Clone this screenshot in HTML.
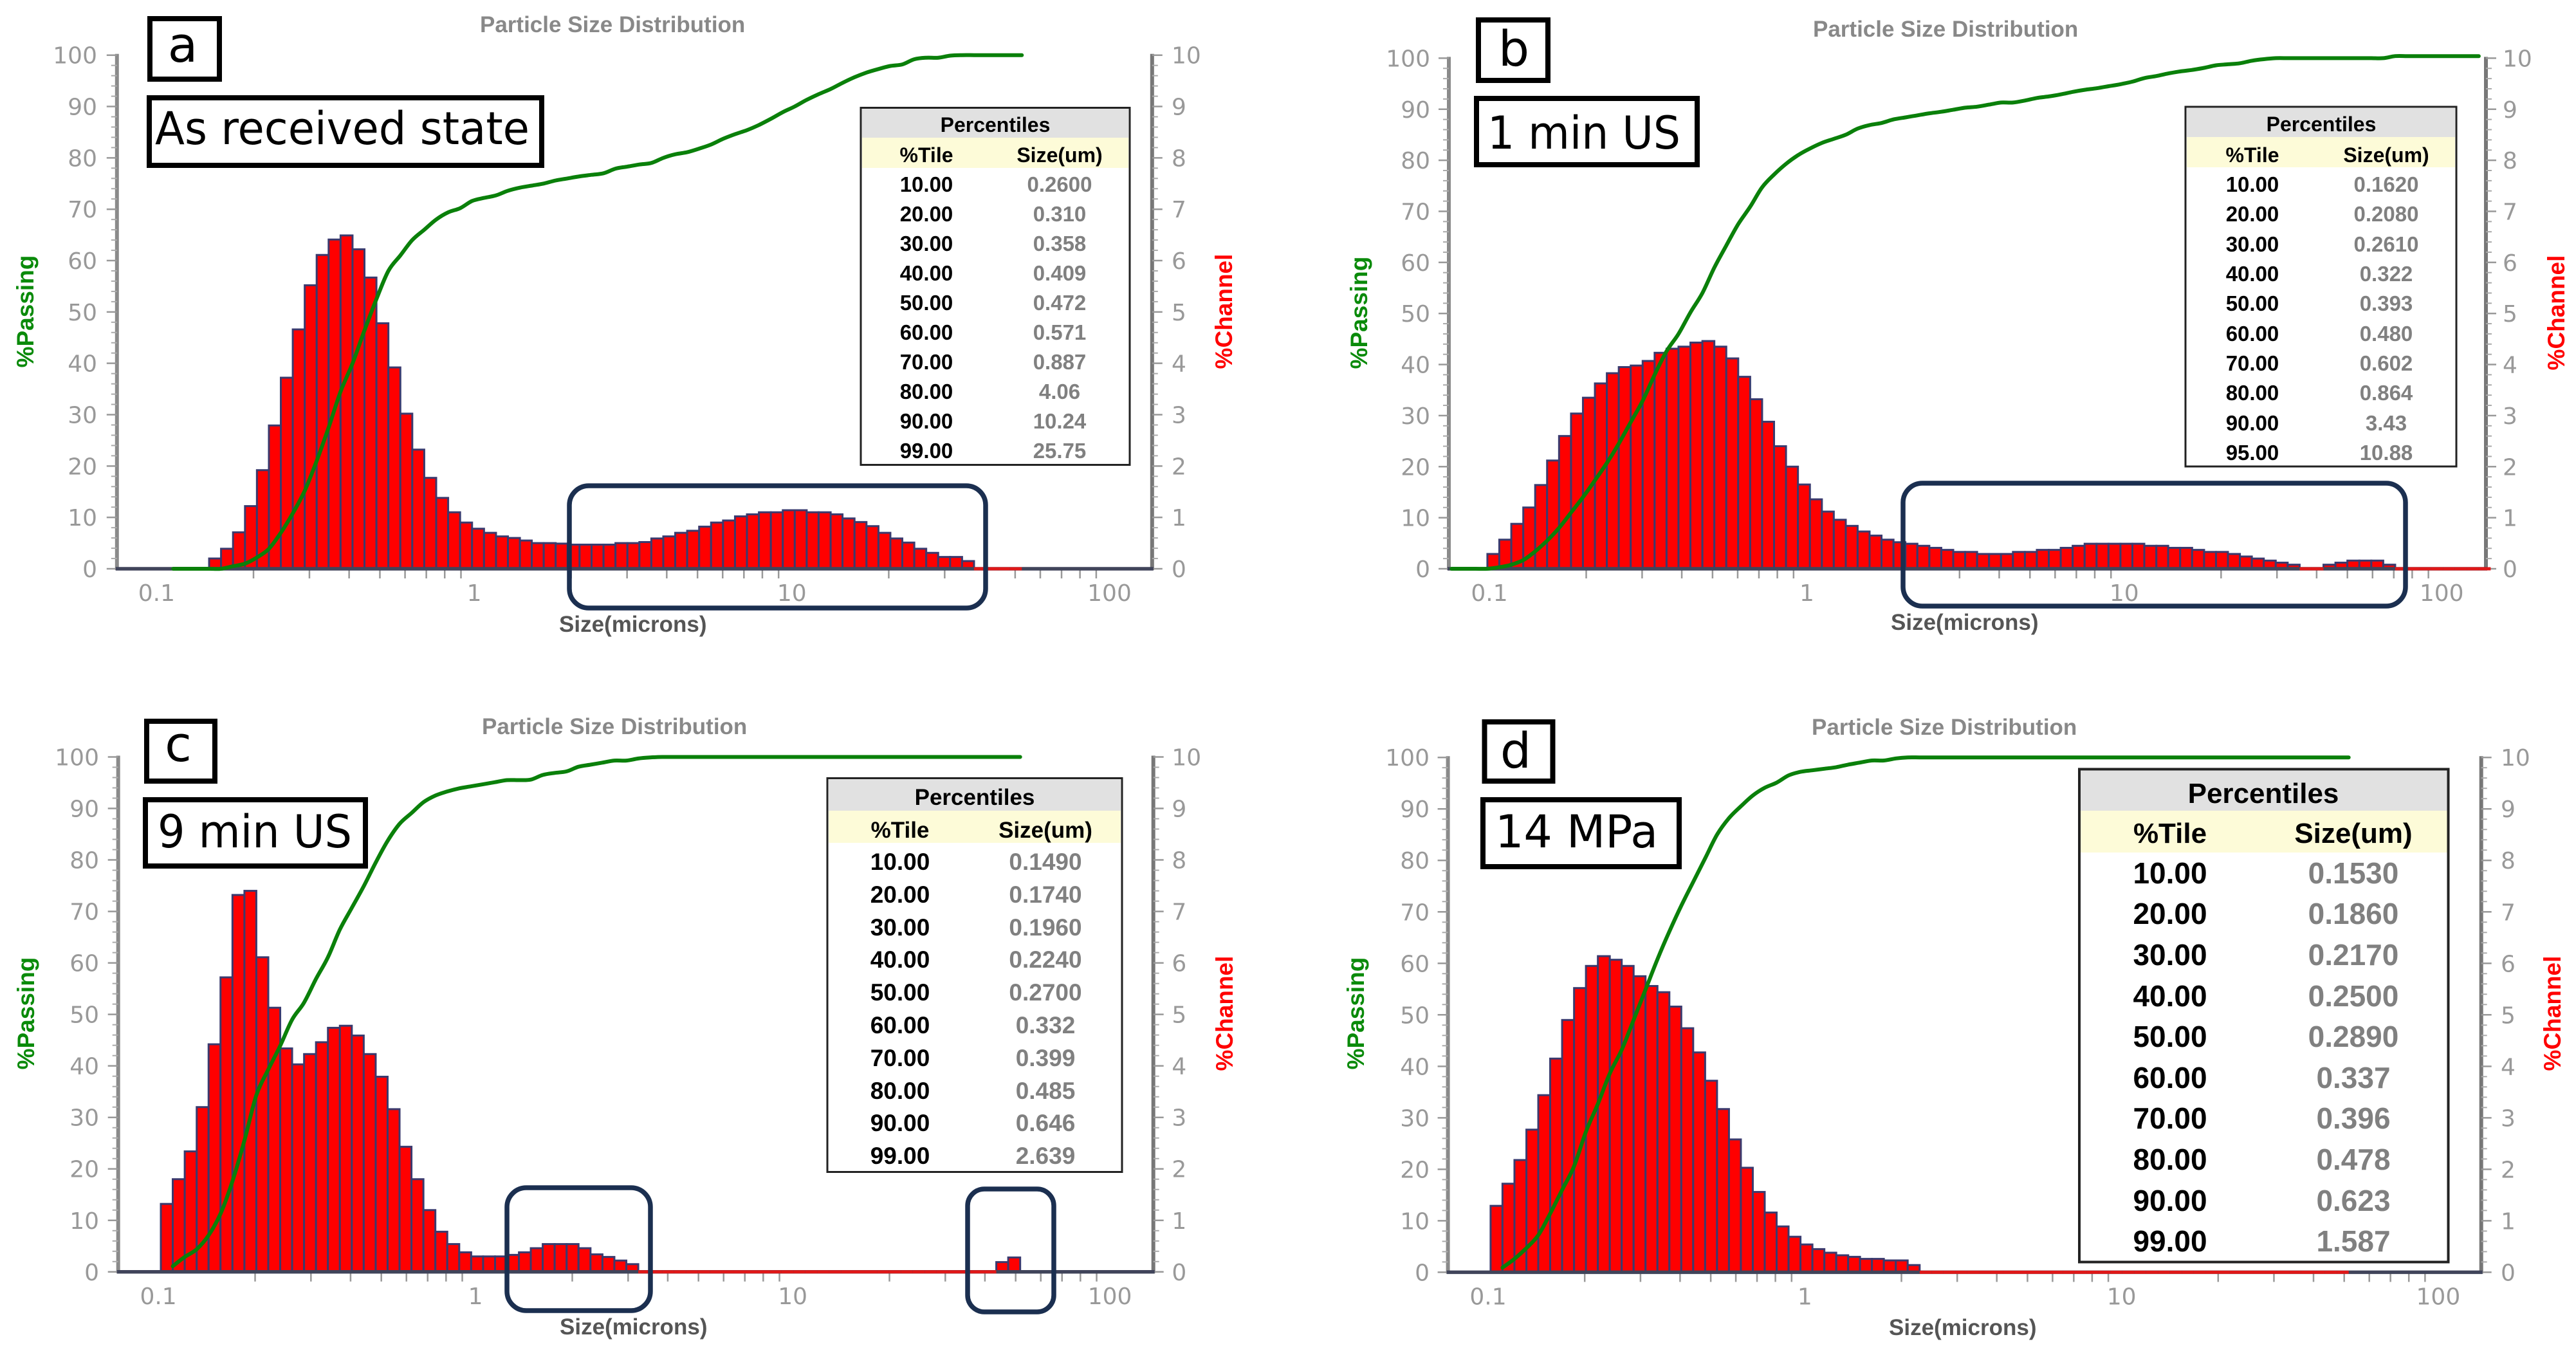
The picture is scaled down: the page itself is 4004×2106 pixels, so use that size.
<!DOCTYPE html>
<html lang="en">
<head>
<meta charset="utf-8">
<title>Particle Size Distribution panels</title>
<style>
html,body{margin:0;padding:0;background:#fff}
svg{display:block}
text{font-family:"Liberation Sans",sans-serif}
.title{font-weight:bold;font-size:35px;fill:#888}
.xtitle{font-weight:bold;font-size:35px;fill:#555}
.pass{font-weight:bold;font-size:37px;fill:#0a8a0a;text-anchor:middle}
.chan{font-weight:bold;font-size:37px;fill:#f00;text-anchor:middle}
.tick{font-family:"DejaVu Sans",sans-serif;font-size:36px;fill:#999}
.letter{font-family:"DejaVu Sans",sans-serif;font-size:76px;fill:#000;text-anchor:middle}
.state{font-family:"DejaVu Sans",sans-serif;font-size:70px;fill:#000}
.box{fill:#fff;stroke:#000;stroke-width:8}
.hl{fill:none;stroke:#1b2f50;stroke-width:7.5}
.tbl{fill:#fff;stroke:#222;stroke-width:3}
.th{fill:#e1e1e1}
.ty{fill:#fdfbd8}
.tt{font-weight:bold;fill:#000;text-anchor:middle}
.tg{font-weight:bold;fill:#808080;text-anchor:middle}
</style>
</head>
<body>
<svg id="figure" xmlns="http://www.w3.org/2000/svg" width="4004" height="2106" viewBox="0 0 4004 2106">
<rect x="0" y="0" width="4004" height="2106" fill="#fff"/>

<g id="plot-a"></g>
<g id="plot-b"></g>
<g id="plot-c"></g>
<g id="plot-d"></g>

<!-- Panel a -->
<g>
<text class="title" x="746" y="50">Particle Size Distribution</text>
<text class="xtitle" x="869" y="982">Size(microns)</text>
<text class="pass" x="52" y="484" transform="rotate(-90 52 484)">%Passing</text>
<text class="chan" x="1915" y="484" transform="rotate(-90 1915 484)">%Channel</text>
<rect class="hl" x="885" y="755" width="647" height="190" rx="30"/>
<rect class="box" x="233" y="29" width="108" height="94"/>
<text class="letter" x="284" y="96">a</text>
<rect class="box" x="232" y="152" width="610" height="105"/>
<text class="state" x="241" y="224" textLength="582" lengthAdjust="spacingAndGlyphs">As received state</text>
<g font-size="33">
<rect class="tbl" x="1338" y="167.5" width="418" height="555"/>
<rect class="th" x="1340" y="169" width="414" height="45"/>
<rect class="ty" x="1340" y="214" width="414" height="47"/>
<text class="tt" x="1547" y="205" font-size="32">Percentiles</text>
<text class="tt" x="1440" y="252" font-size="32">%Tile</text>
<text class="tt" x="1647" y="252" font-size="32">Size(um)</text>
<text class="tt" x="1440" y="298">10.00</text><text class="tg" x="1647" y="298">0.2600</text>
<text class="tt" x="1440" y="344">20.00</text><text class="tg" x="1647" y="344">0.310</text>
<text class="tt" x="1440" y="390">30.00</text><text class="tg" x="1647" y="390">0.358</text>
<text class="tt" x="1440" y="436">40.00</text><text class="tg" x="1647" y="436">0.409</text>
<text class="tt" x="1440" y="482">50.00</text><text class="tg" x="1647" y="482">0.472</text>
<text class="tt" x="1440" y="528">60.00</text><text class="tg" x="1647" y="528">0.571</text>
<text class="tt" x="1440" y="574">70.00</text><text class="tg" x="1647" y="574">0.887</text>
<text class="tt" x="1440" y="620">80.00</text><text class="tg" x="1647" y="620">4.06</text>
<text class="tt" x="1440" y="666">90.00</text><text class="tg" x="1647" y="666">10.24</text>
<text class="tt" x="1440" y="712">99.00</text><text class="tg" x="1647" y="712">25.75</text>
</g>
</g>

<!-- Panel b -->
<g>
<text class="title" x="2818" y="57">Particle Size Distribution</text>
<text class="xtitle" x="2939" y="979">Size(microns)</text>
<text class="pass" x="2125" y="486" transform="rotate(-90 2125 486)">%Passing</text>
<text class="chan" x="3986" y="486" transform="rotate(-90 3986 486)">%Channel</text>
<rect class="hl" x="2958" y="751" width="781" height="191" rx="30"/>
<rect class="box" x="2298" y="31" width="108" height="94"/>
<text class="letter" x="2353" y="102">b</text>
<rect class="box" x="2295" y="153" width="343" height="103"/>
<text class="state" x="2312" y="231" textLength="300" lengthAdjust="spacingAndGlyphs">1 min US</text>
<g font-size="33">
<rect class="tbl" x="3397" y="166" width="421" height="559"/>
<rect class="th" x="3399" y="168" width="417" height="45"/>
<rect class="ty" x="3399" y="213" width="417" height="47"/>
<text class="tt" x="3608" y="204" font-size="32">Percentiles</text>
<text class="tt" x="3501" y="252" font-size="32">%Tile</text>
<text class="tt" x="3709" y="252" font-size="32">Size(um)</text>
<text class="tt" x="3501" y="298">10.00</text><text class="tg" x="3709" y="298">0.1620</text>
<text class="tt" x="3501" y="344">20.00</text><text class="tg" x="3709" y="344">0.2080</text>
<text class="tt" x="3501" y="391">30.00</text><text class="tg" x="3709" y="391">0.2610</text>
<text class="tt" x="3501" y="437">40.00</text><text class="tg" x="3709" y="437">0.322</text>
<text class="tt" x="3501" y="483">50.00</text><text class="tg" x="3709" y="483">0.393</text>
<text class="tt" x="3501" y="530">60.00</text><text class="tg" x="3709" y="530">0.480</text>
<text class="tt" x="3501" y="576">70.00</text><text class="tg" x="3709" y="576">0.602</text>
<text class="tt" x="3501" y="622">80.00</text><text class="tg" x="3709" y="622">0.864</text>
<text class="tt" x="3501" y="669">90.00</text><text class="tg" x="3709" y="669">3.43</text>
<text class="tt" x="3501" y="715">95.00</text><text class="tg" x="3709" y="715">10.88</text>
</g>
</g>

<!-- Panel c -->
<g>
<text class="title" x="749" y="1141">Particle Size Distribution</text>
<text class="xtitle" x="870" y="2074">Size(microns)</text>
<text class="pass" x="53" y="1575" transform="rotate(-90 53 1575)">%Passing</text>
<text class="chan" x="1916" y="1575" transform="rotate(-90 1916 1575)">%Channel</text>
<rect class="hl" x="788" y="1846" width="223" height="191" rx="30"/>
<rect class="hl" x="1504" y="1848" width="134" height="191" rx="26"/>
<rect class="box" x="228" y="1121" width="106" height="93"/>
<text class="letter" x="277" y="1183">c</text>
<rect class="box" x="226" y="1243" width="342" height="103"/>
<text class="state" x="245" y="1317" textLength="302" lengthAdjust="spacingAndGlyphs">9 min US</text>
<g font-size="37">
<rect class="tbl" x="1286" y="1209.5" width="458" height="612"/>
<rect class="th" x="1288" y="1211" width="454" height="49"/>
<rect class="ty" x="1288" y="1260" width="454" height="50"/>
<text class="tt" x="1515" y="1251" font-size="35">Percentiles</text>
<text class="tt" x="1399" y="1302" font-size="35">%Tile</text>
<text class="tt" x="1625" y="1302" font-size="35">Size(um)</text>
<text class="tt" x="1399" y="1352">10.00</text><text class="tg" x="1625" y="1352">0.1490</text>
<text class="tt" x="1399" y="1403">20.00</text><text class="tg" x="1625" y="1403">0.1740</text>
<text class="tt" x="1399" y="1454">30.00</text><text class="tg" x="1625" y="1454">0.1960</text>
<text class="tt" x="1399" y="1504">40.00</text><text class="tg" x="1625" y="1504">0.2240</text>
<text class="tt" x="1399" y="1555">50.00</text><text class="tg" x="1625" y="1555">0.2700</text>
<text class="tt" x="1399" y="1606">60.00</text><text class="tg" x="1625" y="1606">0.332</text>
<text class="tt" x="1399" y="1657">70.00</text><text class="tg" x="1625" y="1657">0.399</text>
<text class="tt" x="1399" y="1708">80.00</text><text class="tg" x="1625" y="1708">0.485</text>
<text class="tt" x="1399" y="1758">90.00</text><text class="tg" x="1625" y="1758">0.646</text>
<text class="tt" x="1399" y="1809">99.00</text><text class="tg" x="1625" y="1809">2.639</text>
</g>
</g>

<!-- Panel d -->
<g>
<text class="title" x="2816" y="1142">Particle Size Distribution</text>
<text class="xtitle" x="2936" y="2075">Size(microns)</text>
<text class="pass" x="2120" y="1575" transform="rotate(-90 2120 1575)">%Passing</text>
<text class="chan" x="3980" y="1575" transform="rotate(-90 3980 1575)">%Channel</text>
<rect class="box" x="2307.5" y="1122" width="106" height="92"/>
<text class="letter" x="2356" y="1193">d</text>
<rect class="box" x="2305" y="1243" width="305" height="104"/>
<text class="state" x="2324" y="1317" textLength="253" lengthAdjust="spacingAndGlyphs">14 MPa</text>
<g font-size="46">
<rect class="tbl" x="3232" y="1195.5" width="573.5" height="766" style="stroke-width:4"/>
<rect class="th" x="3234" y="1197.5" width="569.5" height="62.5"/>
<rect class="ty" x="3234" y="1260" width="569.5" height="65"/>
<text class="tt" x="3518" y="1248" font-size="44">Percentiles</text>
<text class="tt" x="3373" y="1310" font-size="44">%Tile</text>
<text class="tt" x="3658" y="1310" font-size="44">Size(um)</text>
<text class="tt" x="3373" y="1373">10.00</text><text class="tg" x="3658" y="1373">0.1530</text>
<text class="tt" x="3373" y="1436">20.00</text><text class="tg" x="3658" y="1436">0.1860</text>
<text class="tt" x="3373" y="1500">30.00</text><text class="tg" x="3658" y="1500">0.2170</text>
<text class="tt" x="3373" y="1564">40.00</text><text class="tg" x="3658" y="1564">0.2500</text>
<text class="tt" x="3373" y="1627">50.00</text><text class="tg" x="3658" y="1627">0.2890</text>
<text class="tt" x="3373" y="1691">60.00</text><text class="tg" x="3658" y="1691">0.337</text>
<text class="tt" x="3373" y="1754">70.00</text><text class="tg" x="3658" y="1754">0.396</text>
<text class="tt" x="3373" y="1818">80.00</text><text class="tg" x="3658" y="1818">0.478</text>
<text class="tt" x="3373" y="1882">90.00</text><text class="tg" x="3658" y="1882">0.623</text>
<text class="tt" x="3373" y="1945">99.00</text><text class="tg" x="3658" y="1945">1.587</text>
</g>
</g>
</svg>

<script>
// Shared size channels (microns), lower edge of each instrument channel
const channelEdges = [0.0714,0.0778,0.0849,0.0926,0.1009,0.1100,0.1200,0.1309,0.1427,0.1556,0.1697,0.1851,0.2018,0.2201,0.2400,0.2617,0.2854,0.3112,0.3394,0.3701,0.4036,0.4401,0.4800,0.5234,0.5708,0.6224,0.6788,0.7402,0.8072,0.8803,0.9600,1.047,1.142,1.245,1.358,1.480,1.614,1.760,1.920,2.093,2.283,2.490,2.715,2.961,3.229,3.521,3.840,4.187,4.566,4.980,5.430,5.922,6.458,7.042,7.680,8.375,9.133,9.960,10.86,11.84,12.92,14.08,15.36,16.75,18.27,19.92,21.72,23.69,25.83,28.17,30.72,33.50,36.53,39.84,43.44,47.37,51.66,56.34,61.44,67.00,73.06,79.68,86.89,94.75,103.3,112.7,122.9,134.0,146.1];

// Tick values and labels
const passingTickLabels = [0,10,20,30,40,50,60,70,80,90,100];
const channelTickLabels = [0,1,2,3,4,5,6,7,8,9,10];
const sizeTickLabels = [0.1,1,10,100];
const sizeMinorTicks = [0.2,0.3,0.4,0.5,0.6,0.7,0.8,0.9,2,3,4,5,6,7,8,9,20,30,40,50,60,70,80,90];

// %Channel per channel (right axis)
const panelABars = [0.20,0.39,0.71,1.22,1.92,2.79,3.72,4.66,5.52,6.11,6.41,6.49,6.22,5.67,4.78,3.92,3.02,2.32,1.77,1.38,1.10,0.90,0.78,0.70,0.63,0.60,0.55,0.50,0.50,0.49,0.47,0.47,0.47,0.47,0.50,0.50,0.52,0.59,0.63,0.70,0.74,0.82,0.90,0.94,1.02,1.06,1.10,1.10,1.14,1.14,1.10,1.10,1.06,0.98,0.91,0.83,0.70,0.59,0.51,0.39,0.31,0.23,0.23,0.15,0,0,0,0];
const panelBBars = [0.29,0.57,0.88,1.20,1.64,2.12,2.60,3.04,3.35,3.63,3.83,3.95,3.98,4.07,4.23,4.31,4.35,4.43,4.46,4.35,4.12,3.76,3.32,2.88,2.40,2.00,1.65,1.36,1.12,0.96,0.84,0.73,0.65,0.57,0.52,0.49,0.45,0.41,0.37,0.33,0.33,0.29,0.29,0.29,0.33,0.33,0.37,0.37,0.41,0.45,0.49,0.49,0.49,0.49,0.49,0.45,0.45,0.41,0.41,0.37,0.33,0.33,0.29,0.24,0.20,0.16,0.12,0.08,0,0,0.08,0.12,0.16,0.16,0.16,0.08,0,0,0,0,0,0,0,0];
const panelCBars = [1.32,1.80,2.34,3.20,4.42,5.72,7.32,7.40,6.11,5.13,4.34,4.03,4.23,4.46,4.74,4.78,4.59,4.23,3.79,3.16,2.43,1.80,1.20,0.78,0.54,0.38,0.30,0.30,0.30,0.33,0.38,0.46,0.54,0.54,0.54,0.46,0.34,0.29,0.22,0.15,0,0,0,0,0,0,0,0,0,0,0,0,0,0,0,0,0,0,0,0,0,0,0,0,0,0,0,0,0,0,0.19,0.28];
const panelDBars = [1.29,1.72,2.18,2.77,3.44,4.15,4.90,5.52,5.95,6.14,6.07,5.95,5.75,5.56,5.44,5.16,4.74,4.27,3.72,3.17,2.58,2.03,1.56,1.16,0.89,0.69,0.54,0.45,0.38,0.33,0.30,0.26,0.26,0.23,0.23,0.14,0,0,0,0,0,0,0,0,0,0,0,0,0,0,0,0,0,0,0,0,0,0,0,0,0,0,0,0,0,0,0,0,0,0,0,0];

// %Passing per channel edge (left axis)
const panelAPassing = [0,0,0,0,0,0.5,1,2.2,3.9,7,10.8,15.2,21,27.5,34.5,40,46.4,52.5,58,61,64,66,68,69.4,70.2,71.6,72.2,72.7,73.6,74.2,74.6,75,75.6,76,76.4,76.7,77,77.9,78.3,78.7,79,80,80.7,81.1,81.8,82.6,83.7,84.6,85.4,86.4,87.6,88.9,90,91.3,92.4,93.4,94.6,95.7,96.6,97.3,97.9,98.2,99.2,99.5,99.5,99.9,100,100,100,100,100,100];
const panelBPassing = [0,0,0,0,0.3,0.8,1.7,3.4,5.5,8,11,14,17.3,20.7,24.5,28.7,32.9,38,42.6,46,50.2,54,59,63.3,67.5,70.9,74.7,77.2,79.3,81,82.3,83.4,84.2,85,86.2,86.9,87.3,88,88.4,88.8,89.2,89.5,89.9,90.3,90.5,90.9,91.3,91.3,91.7,92.2,92.5,92.9,93.4,93.8,94.1,94.5,94.9,95.4,96.1,96.5,97,97.4,97.7,98.1,98.6,98.8,99,99.5,99.8,100,100,100,100,100,100,100,100,100,100,100.4,100.4,100.4,100.4,100.4,100.4,100.4,100.4];
const panelCPassing = [1.1,2.9,4.4,7.1,11.3,17.6,25.5,34.3,39.3,43.9,49,52.3,56.9,61.1,66.5,70.7,74.9,79.5,83.7,87,89.1,91.2,92.5,93.3,93.9,94.3,94.7,95.1,95.5,95.5,95.6,96.5,96.9,97.2,98.1,98.5,98.9,99.3,99.3,99.7,99.9,100,100,100,100,100,100,100,100,100,100,100,100,100,100,100,100,100,100,100,100,100,100,100,100,100,100,100,100,100,100,100];
const panelDPassing = [0.9,2.6,4.7,7.2,11.4,16,20.6,27.3,32.7,38.6,43.2,49,54.9,60.8,66.2,71.2,75.8,80.4,85,88.2,90.5,92.6,94.1,95.1,96.5,97.2,97.5,97.8,98.1,98.6,99,99.4,99.4,99.8,100,100,100,100,100,100,100,100,100,100,100,100,100,100,100,100,100,100,100,100,100,100,100,100,100,100,100,100,100,100,100,100,100,100,100,100,100,100];

// Panel layout
const panels = [
  {id:'a',size01:245.4,decade:493.7,barShift:3.4,y0:884,y100:85.7,left:181.8,right:1790.8,leftLabel:151,rightLabel:1821,barStart:8,passStart:5,bars:panelABars,passing:panelAPassing},
  {id:'b',size01:2317,decade:493.4,barShift:-7,y0:884,y100:90.4,left:2252,right:3864,leftLabel:2223,rightLabel:3890,barStart:4,passStart:1,bars:panelBBars,passing:panelBPassing},
  {id:'c',size01:248.1,decade:493,barShift:0,y0:1976.8,y100:1176.5,left:183.7,right:1792.7,leftLabel:154,rightLabel:1821.4,barStart:4,passStart:5,bars:panelCBars,passing:panelCPassing},
  {id:'d',size01:2315,decade:492.3,barShift:0,y0:1977.4,y100:1177.2,left:2250.6,right:3856.7,leftLabel:2222,rightLabel:3887,barStart:4,passStart:5,bars:panelDBars,passing:panelDPassing}
];

const NS = 'http://www.w3.org/2000/svg';
function mk(tag, parent, attrs) {
  const el = document.createElementNS(NS, tag);
  for (const k in attrs) el.setAttribute(k, attrs[k]);
  parent.appendChild(el);
  return el;
}

panels.forEach(function (p) {
  const root = document.getElementById('plot-' + p.id);
  const xScale = function (size) { return p.size01 + p.decade * Math.log10(size / 0.1); };
  const yPassing = function (v) { return p.y0 - (p.y0 - p.y100) * v / 100; };
  const yChannel = function (v) { return p.y0 - (p.y0 - p.y100) * v / 10; };

  const tickGroup = mk('g', root, {});
  
  
  const barGroup = mk('g', root, {});
  
  
  const baseGroup = mk('g', root, {});
  
  
  const zeroGroup = mk('g', root, {});
  
  

  // Axes
  const leftLine = mk('line', tickGroup, {x1:p.left,x2:p.left,y1:p.y100-2,y2:p.y0+2,stroke:'#8a8a8a','stroke-width':6});
  
  
  const rightLine = mk('line', tickGroup, {x1:p.right,x2:p.right,y1:p.y100-2,y2:p.y0+2,stroke:'#777','stroke-width':6});
  
  

  passingTickLabels.forEach(function (v) {
    const y = yPassing(v);
    const t = mk('line', tickGroup, {x1:p.left-16,x2:p.left,y1:y,y2:y,stroke:'#999','stroke-width':2.5});
    
    
    const l = mk('text', tickGroup, {class:'tick',x:p.leftLabel,y:y+13,'text-anchor':'end'});
    
    
    l.textContent = v;
    if (v < 100) {
      [2,4,6,8].forEach(function (m) {
        const ym = yPassing(v + m);
        const tm = mk('line', tickGroup, {x1:p.left-9,x2:p.left,y1:ym,y2:ym,stroke:'#aaa','stroke-width':2});
        
        
      });
    }
  });

  channelTickLabels.forEach(function (v) {
    const y = yChannel(v);
    const t = mk('line', tickGroup, {x1:p.right,x2:p.right+16,y1:y,y2:y,stroke:'#999','stroke-width':2.5});
    
    
    const l = mk('text', tickGroup, {class:'tick',x:p.rightLabel,y:y+13,'text-anchor':'start'});
    
    
    l.textContent = v;
    if (v < 10) {
      [0.2,0.4,0.6,0.8].forEach(function (m) {
        const ym = yChannel(v + m);
        const tm = mk('line', tickGroup, {x1:p.right,x2:p.right+9,y1:ym,y2:ym,stroke:'#aaa','stroke-width':2});
        
        
      });
    }
  });

  sizeMinorTicks.forEach(function (s) {
    const x = xScale(s);
    const t = mk('line', tickGroup, {x1:x,x2:x,y1:p.y0,y2:p.y0+15,stroke:'#999','stroke-width':2.5});
    
    
  });
  sizeTickLabels.forEach(function (s) {
    const l = mk('text', tickGroup, {class:'tick',x:xScale(s)-2,y:p.y0+50,'text-anchor':'middle'});
    
    
    l.textContent = s;
  });

  // Bars
  p.bars.forEach(function (v, i) {
    const x1 = xScale(channelEdges[p.barStart + i]) + p.barShift;
    const x2 = xScale(channelEdges[p.barStart + i + 1]) + p.barShift;
    if (v > 0) {
      const y = yChannel(v);
      const r = mk('rect', barGroup, {x:x1,y:y,width:x2-x1,height:p.y0-y,fill:'#ff0000',stroke:'#3a3a6e','stroke-width':3});
      
      
    } else {
      const z = mk('line', zeroGroup, {x1:x1,x2:x2,y1:p.y0,y2:p.y0,stroke:'#e01818','stroke-width':5});
      
      
    }
  });

  const base = mk('line', baseGroup, {x1:p.left-2,x2:p.right+2,y1:p.y0,y2:p.y0,stroke:'#40445a','stroke-width':5.5});
  
  

  // Passing curve, smoothed through the read values
  const pts = p.passing.map(function (v, i) {
    return [xScale(channelEdges[p.passStart + i]) + p.barShift, yPassing(v)];
  });
  let d = 'M' + pts[0][0].toFixed(1) + ' ' + pts[0][1].toFixed(1);
  for (let i = 0; i < pts.length - 1; i++) {
    const a = pts[Math.max(i - 1, 0)], b = pts[i], c = pts[i + 1], e = pts[Math.min(i + 2, pts.length - 1)];
    const c1x = b[0] + (c[0] - a[0]) / 6, c1y = b[1] + (c[1] - a[1]) / 6;
    const c2x = c[0] - (e[0] - b[0]) / 6, c2y = c[1] - (e[1] - b[1]) / 6;
    d += 'C' + c1x.toFixed(1) + ' ' + c1y.toFixed(1) + ' ' + c2x.toFixed(1) + ' ' + c2y.toFixed(1) + ' ' + c[0].toFixed(1) + ' ' + c[1].toFixed(1);
  }
  const curve = mk('path', root, {d:d,fill:'none',stroke:'#0a800a','stroke-width':6,'stroke-linejoin':'round','stroke-linecap':'round'});
  
  
});
</script>
</body>
</html>
